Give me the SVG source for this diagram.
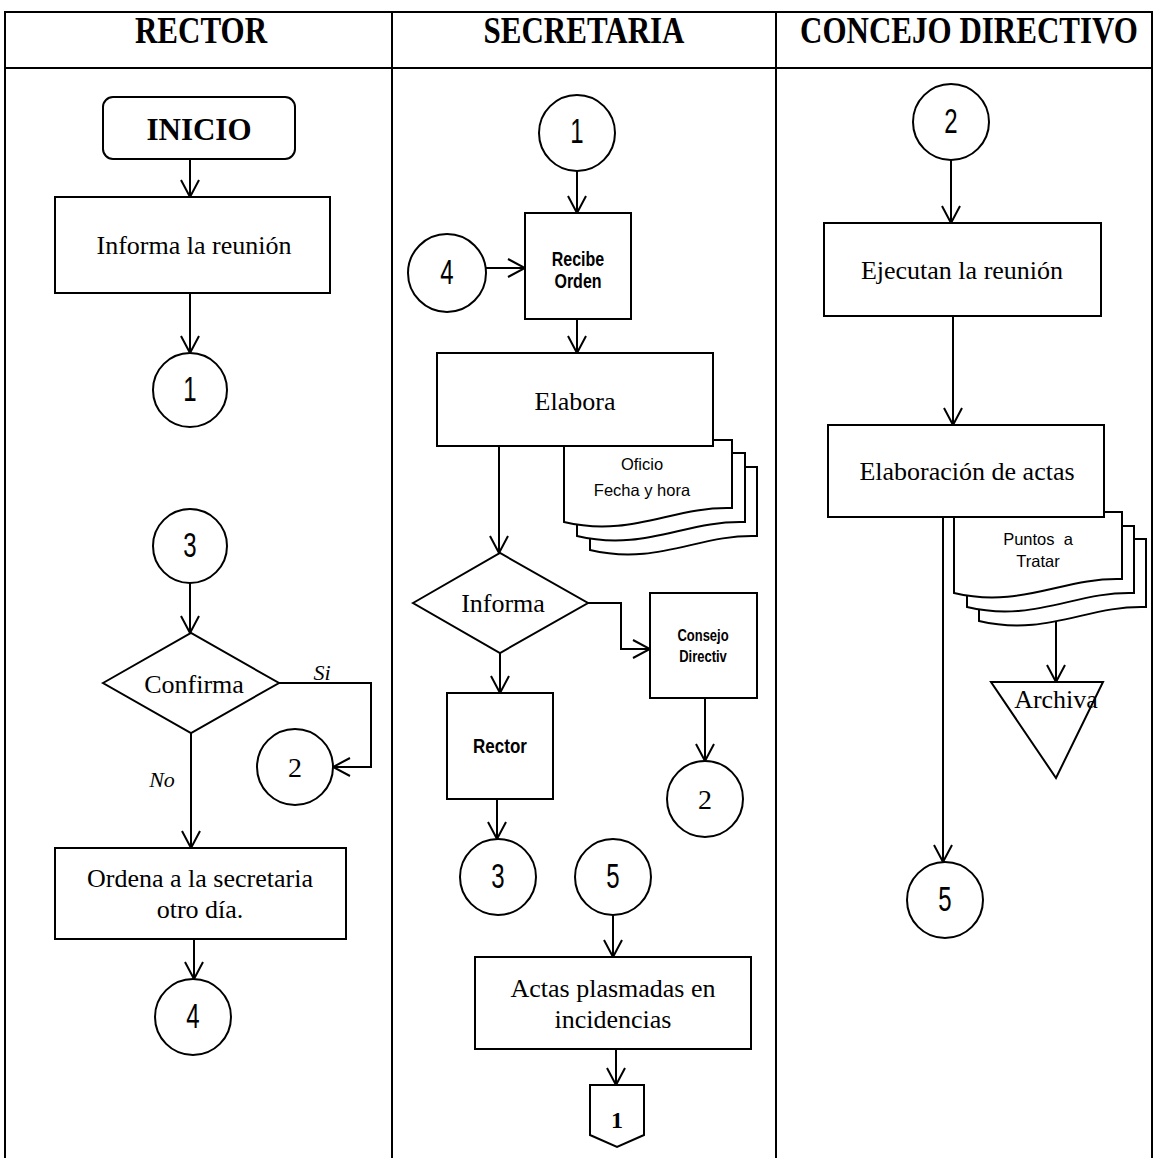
<svg xmlns="http://www.w3.org/2000/svg" width="1157" height="1158" viewBox="0 0 1157 1158">
  <style>
    .ln { fill: none; stroke: #000; stroke-width: 2; }
    .box { fill: #fff; stroke: #000; stroke-width: 2; }
    .conn { fill: none; stroke: #000; stroke-width: 2; marker-end: url(#ah); }
    .hdr { font-family: "Liberation Serif", "Times New Roman", serif; font-weight: bold; font-size: 31px; text-anchor: middle; }
    .ser { font-family: "Liberation Serif", "Times New Roman", serif; font-size: 26px; text-anchor: middle; }
    .sanb { font-family: "Liberation Sans", Arial, sans-serif; font-weight: bold; text-anchor: middle; }
    .san { font-family: "Liberation Sans", Arial, sans-serif; font-size: 16.5px; text-anchor: middle; white-space: pre; }
    .dig { font-family: "Liberation Sans", Arial, sans-serif; font-size: 24px; text-anchor: middle; }
    .lbl { font-family: "Liberation Serif", "Times New Roman", serif; font-style: italic; font-size: 22px; text-anchor: middle; }
  </style>
  <defs>
    <marker id="ah" markerUnits="userSpaceOnUse" markerWidth="20" markerHeight="20" viewBox="0 0 20 20" refX="18" refY="10" orient="auto">
      <path d="M1,1 L18,10 L1,19" fill="none" stroke="#000" stroke-width="2"/>
    </marker>
  </defs>
  <rect width="1157" height="1158" fill="#fff"/>

  <!-- swimlane table -->
  <g id="lanes">
    <path class="ln" d="M5,1158 V12 H1152 V1158 M5,68 H1152 M392,12 V1158 M776,12 V1158"/>
    <text class="hdr" transform="translate(201,43) scale(1,1.2)">RECTOR</text>
    <text class="hdr" transform="translate(584,43) scale(1,1.2)">SECRETARIA</text>
    <text class="hdr" transform="translate(969,43) scale(1,1.2)">CONCEJO DIRECTIVO</text>
  </g>

  <!-- connectors -->
  <g id="connectors">
    <path class="conn" d="M190,159 V197"/>
    <path class="conn" d="M190,293 V353"/>
    <path class="conn" d="M190,583 V633"/>
    <path class="conn" d="M279,683 H371 V767 H333"/>
    <path class="conn" d="M191,733 V848"/>
    <path class="conn" d="M194,939 V979"/>
    <path class="conn" d="M577,171 V213"/>
    <path class="conn" d="M486,268 H525"/>
    <path class="conn" d="M577,319 V353"/>
    <path class="conn" d="M499,446 V553"/>
    <path class="conn" d="M588,603 H621 V649 H650"/>
    <path class="conn" d="M500,653 V693"/>
    <path class="conn" d="M497,799 V839"/>
    <path class="conn" d="M705,698 V761"/>
    <path class="conn" d="M613,915 V957"/>
    <path class="conn" d="M616,1049 V1085"/>
    <path class="conn" d="M951,160 V223"/>
    <path class="conn" d="M953,316 V425"/>
    <path class="conn" d="M943,517 V862"/>
    <path class="conn" d="M1056,614 V682"/>
    <text class="lbl" x="322" y="680">Si</text>
    <text class="lbl" x="162" y="787">No</text>
  </g>

  <!-- RECTOR lane -->
  <g id="inicio">
    <rect class="box" x="103" y="97" width="192" height="62" rx="10"/>
    <text class="hdr" x="199" y="140" style="font-size:31px">INICIO</text>
  </g>
  <g id="informa-reunion">
    <rect class="box" x="55" y="197" width="275" height="96"/>
    <text class="ser" x="194" y="254">Informa la reunión</text>
  </g>
  <g id="r-c1">
    <circle class="box" cx="190" cy="390" r="37"/>
    <text class="dig" transform="translate(190,401) scale(1,1.45)">1</text>
  </g>
  <g id="r-c3">
    <circle class="box" cx="190" cy="546" r="37"/>
    <text class="dig" transform="translate(190,557) scale(1,1.45)">3</text>
  </g>
  <g id="confirma">
    <polygon class="box" points="103,683 191,633 279,683 191,733"/>
    <text class="ser" x="194" y="693">Confirma</text>
  </g>
  <g id="r-c2">
    <circle class="box" cx="295" cy="767" r="38"/>
    <text class="ser" x="295" y="777" style="font-size:28px">2</text>
  </g>
  <g id="ordena">
    <rect class="box" x="55" y="848" width="291" height="91"/>
    <text class="ser" x="200" y="887">Ordena a la secretaria</text>
    <text class="ser" x="200" y="918">otro día.</text>
  </g>
  <g id="r-c4">
    <circle class="box" cx="193" cy="1017" r="38"/>
    <text class="dig" transform="translate(193,1028) scale(1,1.45)">4</text>
  </g>

  <!-- SECRETARIA lane -->
  <g id="s-c1">
    <circle class="box" cx="577" cy="133" r="38"/>
    <text class="dig" transform="translate(577,143) scale(1,1.45)">1</text>
  </g>
  <g id="s-c4">
    <circle class="box" cx="447" cy="273" r="39"/>
    <text class="dig" transform="translate(447,284) scale(1,1.45)">4</text>
  </g>
  <g id="recibe-orden">
    <rect class="box" x="525" y="213" width="106" height="106"/>
    <text class="sanb" transform="translate(578,266) scale(1,1.25)" style="font-size:16px">Recibe</text>
    <text class="sanb" transform="translate(578,288) scale(1,1.25)" style="font-size:16px">Orden</text>
  </g>
  <g id="oficio-docs">
    <path class="box" d="M590,467 H757 V536 C699,534 657,566 590,550 Z"/>
    <path class="box" d="M577,453 H745 V522 C686,520 644,552 577,536 Z"/>
    <path class="box" d="M564,440 H732 V508 C673,506 631,538 564,522 Z"/>
    <text class="san" x="642" y="470">Oficio</text>
    <text class="san" x="642" y="496">Fecha y hora</text>
  </g>
  <g id="elabora">
    <rect class="box" x="437" y="353" width="276" height="93"/>
    <text class="ser" x="575" y="410">Elabora</text>
  </g>
  <g id="informa">
    <polygon class="box" points="413,603 500,553 588,603 500,653"/>
    <text class="ser" x="503" y="612">Informa</text>
  </g>
  <g id="consejo">
    <rect class="box" x="650" y="593" width="107" height="105"/>
    <text class="sanb" transform="translate(703,641) scale(1,1.3)" style="font-size:13px">Consejo</text>
    <text class="sanb" transform="translate(703,662) scale(1,1.3)" style="font-size:13px">Directiv</text>
  </g>
  <g id="rector">
    <rect class="box" x="447" y="693" width="106" height="106"/>
    <text class="sanb" transform="translate(500,753) scale(1,1.15)" style="font-size:17px">Rector</text>
  </g>
  <g id="s-c2">
    <circle class="box" cx="705" cy="799" r="38"/>
    <text class="ser" x="705" y="809" style="font-size:28px">2</text>
  </g>
  <g id="s-c3">
    <circle class="box" cx="498" cy="877" r="38"/>
    <text class="dig" transform="translate(498,888) scale(1,1.45)">3</text>
  </g>
  <g id="s-c5">
    <circle class="box" cx="613" cy="877" r="38"/>
    <text class="dig" transform="translate(613,888) scale(1,1.45)">5</text>
  </g>
  <g id="actas">
    <rect class="box" x="475" y="957" width="276" height="92"/>
    <text class="ser" x="613" y="997">Actas plasmadas en</text>
    <text class="ser" x="613" y="1028">incidencias</text>
  </g>
  <g id="offpage-1">
    <path class="box" d="M590,1085 H644 V1135 L617,1147 L590,1135 Z"/>
    <text class="hdr" x="617" y="1128" style="font-size:24px">1</text>
  </g>

  <!-- CONCEJO DIRECTIVO lane -->
  <g id="c-c2">
    <circle class="box" cx="951" cy="122" r="38"/>
    <text class="dig" transform="translate(951,133) scale(1,1.45)">2</text>
  </g>
  <g id="ejecutan">
    <rect class="box" x="824" y="223" width="277" height="93"/>
    <text class="ser" x="962" y="279">Ejecutan la reunión</text>
  </g>
  <g id="puntos-docs">
    <path class="box" d="M979,539 H1146 V607 C1088,605 1046,637 979,621 Z"/>
    <path class="box" d="M967,526 H1134 V593 C1076,591 1034,623 967,607 Z"/>
    <path class="box" d="M954,512 H1122 V579 C1063,577 1021,609 954,593 Z"/>
    <text class="san" x="1038" y="545">Puntos  a</text>
    <text class="san" x="1038" y="567">Tratar</text>
  </g>
  <g id="elaboracion-actas">
    <rect class="box" x="828" y="425" width="276" height="92"/>
    <text class="ser" x="967" y="480">Elaboración de actas</text>
  </g>
  <g id="archiva">
    <polygon class="box" points="991,682 1103,682 1056,778"/>
    <text class="ser" x="1056" y="708">Archiva</text>
  </g>
  <g id="c-c5">
    <circle class="box" cx="945" cy="900" r="38"/>
    <text class="dig" transform="translate(945,911) scale(1,1.45)">5</text>
  </g>
</svg>
